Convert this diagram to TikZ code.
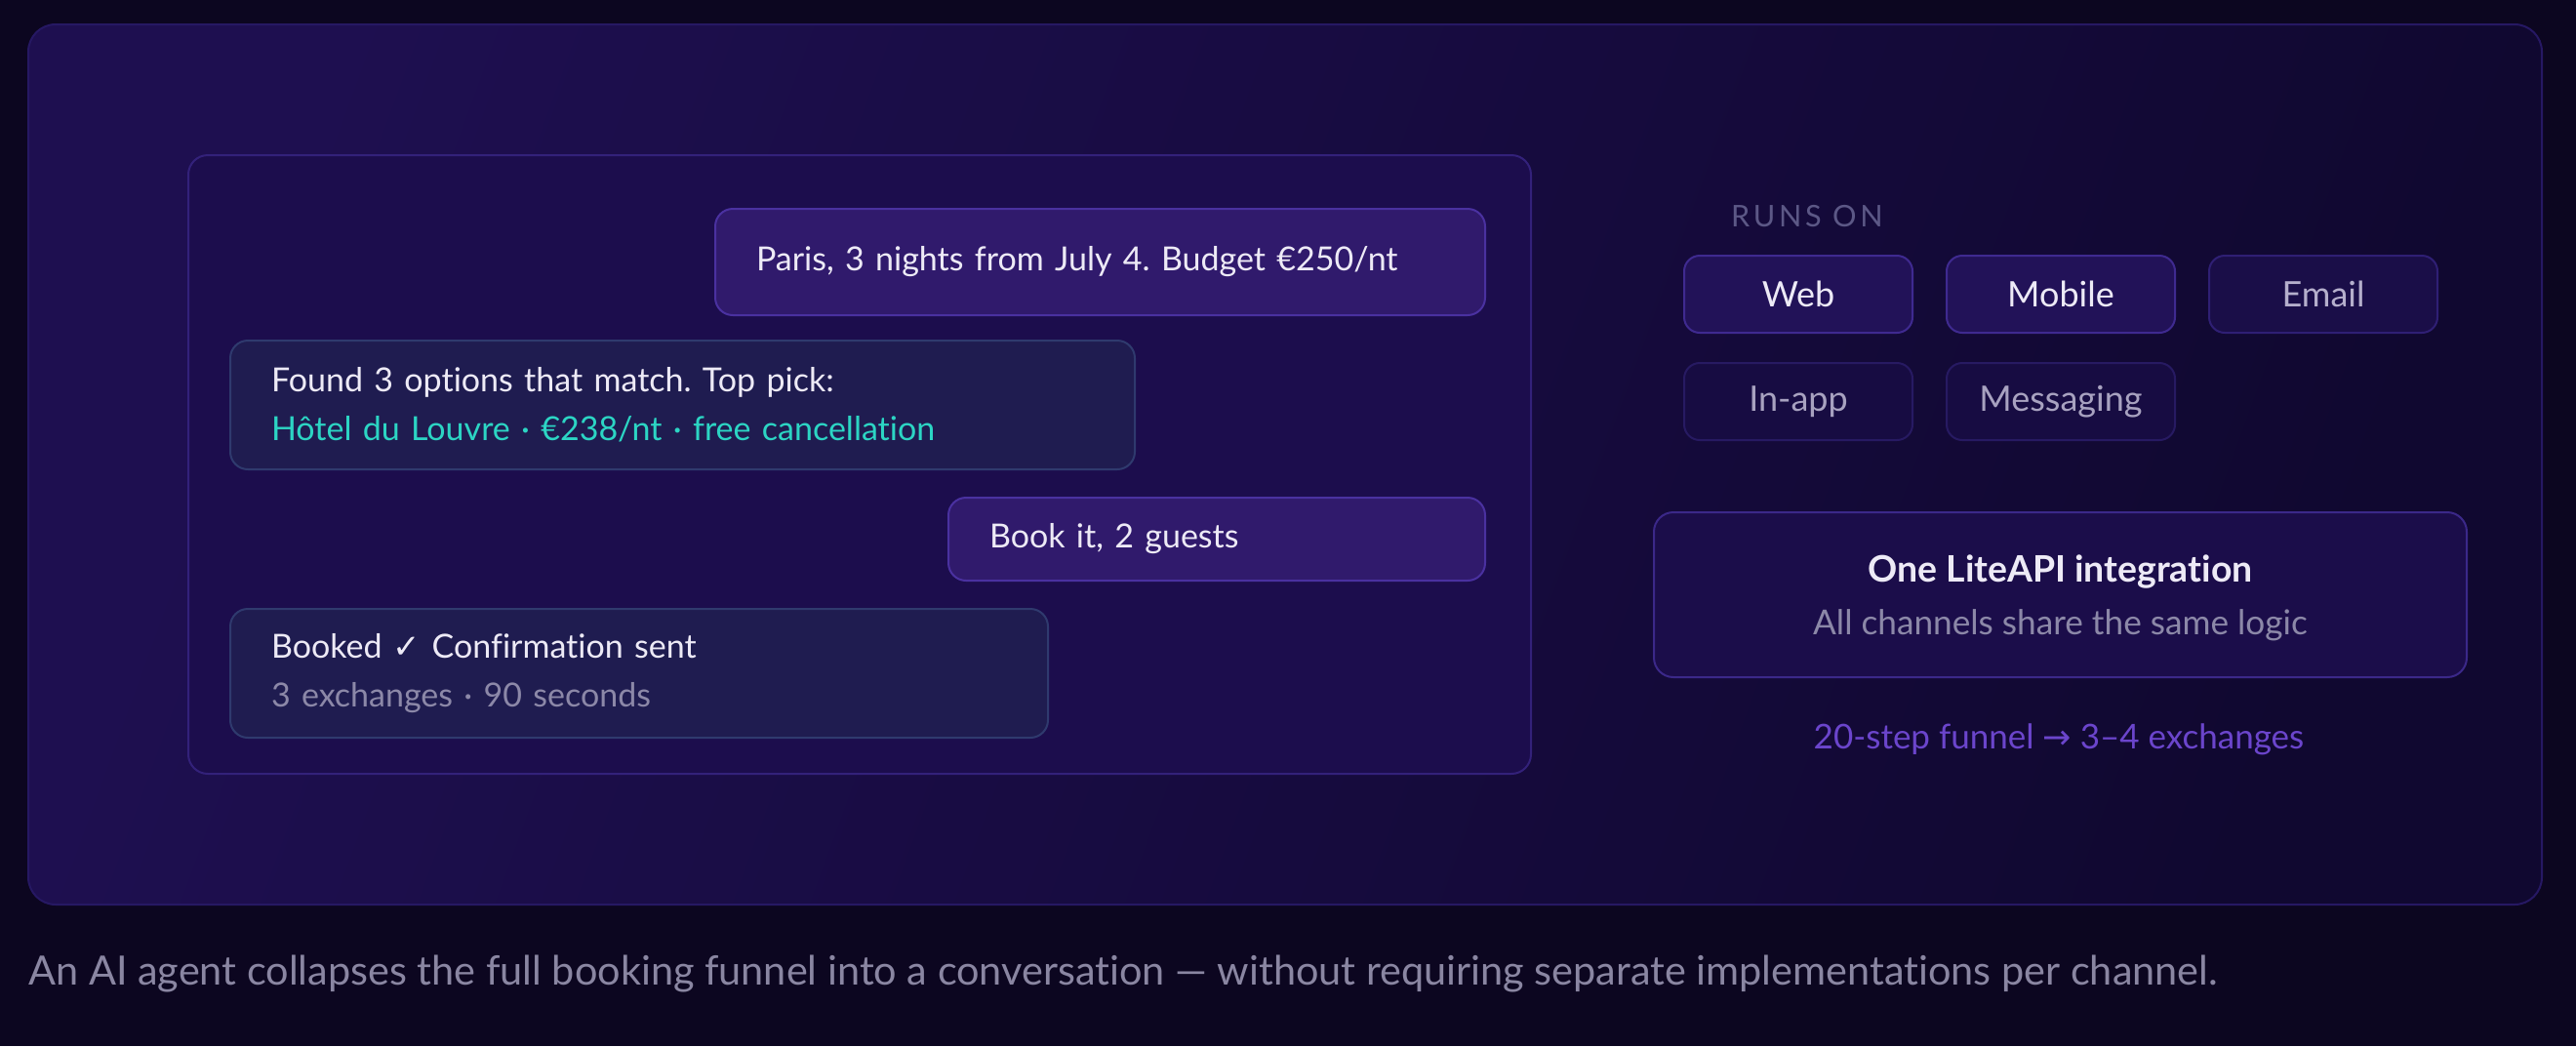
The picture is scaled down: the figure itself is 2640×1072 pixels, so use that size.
\documentclass[tikz,border=0pt]{standalone}
\usepackage{fontspec}
\setmainfont{Lato}[Ligatures=NoCommon]
\newfontfamily\glyphfont{DejaVu Sans}
\newfontfamily\runsfont[LetterSpace=12]{Lato}
\usetikzlibrary{positioning}
\frenchspacing

\definecolor{pagebg}{HTML}{0C0620}
\definecolor{panelA}{HTML}{1E0F50}
\definecolor{panelB}{HTML}{100830}
\definecolor{panelline}{HTML}{261863}
\definecolor{chatfill}{HTML}{1C0D4D}
\definecolor{chatline}{HTML}{33217A}
\definecolor{userfill}{HTML}{301A6C}
\definecolor{userline}{HTML}{4A31A0}
\definecolor{agentfill}{HTML}{1F1C50}
\definecolor{agentline}{HTML}{2F3A6E}
\definecolor{txtmain}{HTML}{EDEAF6}
\definecolor{txtdim}{HTML}{8C88A8}
\definecolor{txtcyan}{HTML}{2CD5C4}
\definecolor{runsgray}{HTML}{5C5886}
\definecolor{chanfill}{HTML}{221258}
\definecolor{chanline}{HTML}{3F2A90}
\definecolor{chanfillB}{HTML}{1A0E48}
\definecolor{chanlineB}{HTML}{2F1F74}
\definecolor{chanfillC}{HTML}{170C42}
\definecolor{chanlineC}{HTML}{271A62}
\definecolor{chantxtB}{HTML}{B5AFCC}
\definecolor{chantxtC}{HTML}{A8A2C0}
\definecolor{litefill}{HTML}{1B0D4A}
\definecolor{liteline}{HTML}{3B2889}
\definecolor{funnelpurple}{HTML}{6B45CC}
\definecolor{captiongray}{HTML}{8A86A2}

\tikzset{
	chat/.style={rounded corners=9pt, line width=1pt, inner xsep=21pt, inner ysep=0pt, align=left, anchor=north west, text=txtmain, font=\fontsize{17}{25}\selectfont},
	user/.style={chat, fill=userfill, draw=userline},
	agent/.style={chat, fill=agentfill, draw=agentline},
	chan/.style={rounded corners=8pt, line width=1pt, minimum width=117pt, minimum height=39.5pt, inner sep=0pt, font=\fontsize{18}{20}\selectfont},
	chanlit/.style={chan, fill=chanfill, draw=chanline, text=txtmain},
	chanmid/.style={chan, fill=chanfillB, draw=chanlineB, text=chantxtB},
	chanoff/.style={chan, fill=chanfillC, draw=chanlineC, text=chantxtC}
}

\begin{document}
\begin{tikzpicture}[x=0.5pt, y=-0.5pt]
	\fill[pagebg] (0,0) rectangle (2640,1072);
	\draw[panelline, line width=1pt, rounded corners=14pt, left color=panelA, right color=panelB, shading angle=70] (29,25) rectangle (2605,927);

	% conversation
	\draw[chatline, line width=1pt, rounded corners=10pt, fill=chatfill] (193,159) rectangle (1569,793);
	\node[user, text width=352.5pt, minimum height=54.5pt] (paris) at (732,213) {Paris, 3 nights from July 4. Budget €250/nt};
	\node[agent, text width=421.5pt, minimum height=66pt] (found) at (235,348) {Found 3 options that match. Top pick:\\\textcolor{txtcyan}{Hôtel du Louvre · €238/nt · free cancellation}};
	\node[user, text width=233pt, minimum height=42.5pt] (book) at (971,509) {Book it, 2 guests};
	\node[agent, text width=377pt, minimum height=66pt] (booked) at (235,623) {Booked {\glyphfont ✓} Confirmation sent\\\textcolor{txtdim}{3 exchanges · 90 seconds}};

	% channels
	\node[anchor=west, text=runsgray, font=\runsfont\fontsize{15.3}{18}\selectfont] (runs) at (1767,222) {RUNS ON};
	\node[chanlit, anchor=north west] (web) at (1725,261) {Web};
	\node[chanlit, right = 16.5pt of web] (mobile) {Mobile};
	\node[chanmid, right = 16.5pt of mobile] (email) {Email};
	\node[chanoff, below = 14.5pt of web] (inapp) {In-app};
	\node[chanoff, right = 16.5pt of inapp] (msg) {Messaging};

	\node[draw=liteline, fill=litefill, line width=1pt, rounded corners=10pt, minimum width=416.5pt, minimum height=84.5pt, anchor=north west] (lite) at (1694,524) {};
	\node[text=txtmain, font=\fontsize{18.7}{22}\selectfont\bfseries] (litetitle) at ([yshift=11.75pt]lite.center) {One LiteAPI integration};
	\node[text=txtdim, font=\fontsize{17.6}{20}\selectfont] (litesub) at ([yshift=-15.75pt]lite.center) {All channels share the same logic};
	\node[text=funnelpurple, font=\fontsize{17.5}{20}\selectfont] (funnel) at (2110,758) {20-step funnel {\glyphfont →} 3–4 exchanges};

	\node[anchor=west, inner sep=0pt, text=captiongray, font=\fontsize{20.7}{24}\selectfont] (caption) at (29,998) {An AI agent collapses the full booking funnel into a conversation — without requiring separate implementations per channel.};
\end{tikzpicture}
\end{document}
